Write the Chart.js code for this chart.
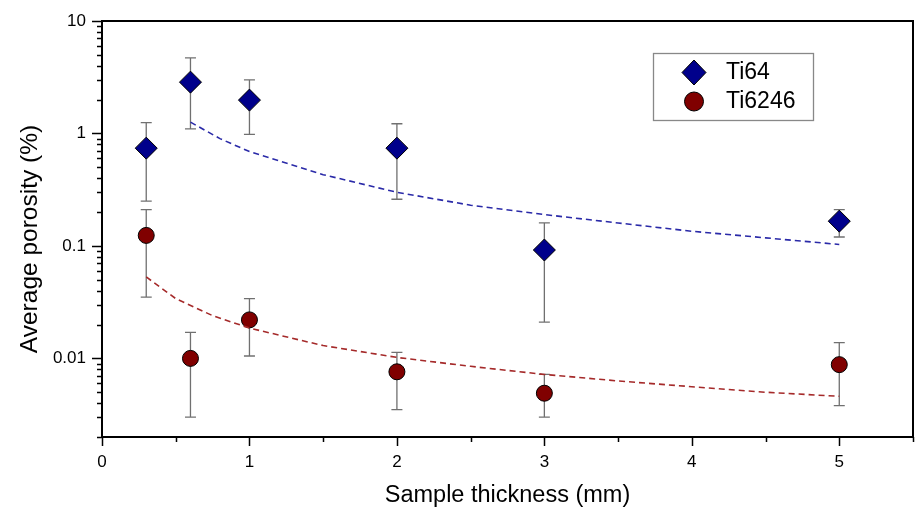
<!DOCTYPE html>
<html>
<head>
<meta charset="utf-8">
<script src="https://cdn.jsdelivr.net/npm/chart.js@4.4.1/dist/chart.umd.min.js"></script>
<style>
  body { margin: 0; background: #fff; overflow: hidden; }
  canvas { display: block; }
</style>
</head>
<body>
<canvas id="graf" width="915" height="510"></canvas>
<script>
// thickness (mm)
const thickness = [0.3, 0.6, 1, 2, 3, 5];

// Ti64 average porosity (%) and error bar ends
const ti64 = [0.74, 2.86, 1.98, 0.74, 0.092, 0.166];
const ti64Hi = [1.25, 4.7, 3.0, 1.22, 0.16, 0.21];
const ti64Lo = [0.25, 1.1, 0.98, 0.26, 0.021, 0.12];

// Ti6246
const ti6246 = [0.124, 0.010, 0.022, 0.0076, 0.0049, 0.0088];
const ti6246Hi = [0.21, 0.017, 0.034, 0.0113, 0.0072, 0.0138];
const ti6246Lo = [0.035, 0.003, 0.0105, 0.0035, 0.003, 0.0038];

// fitted trend lines
const fit64X = [0.6, 0.8, 1, 1.5, 2, 2.5, 3, 3.5, 4, 4.5, 5];
const fit64Y = [1.26, 0.90, 0.69, 0.43, 0.30, 0.23, 0.19, 0.16, 0.135, 0.118, 0.103];
const fit6246X = [0.3, 0.5, 0.75, 1, 1.5, 2, 2.5, 3, 3.5, 4, 4.5, 5];
const fit6246Y = [0.053, 0.034, 0.024, 0.0186, 0.013, 0.0102, 0.0085, 0.0072, 0.0063, 0.0056, 0.0050, 0.0046];

const yTicks = [];
[0.001, 0.01, 0.1, 1].forEach(function (d) {
  for (let k = 1; k < 10; k++) {
    const v = +(d * k).toPrecision(3);
    if (v >= 0.002) yTicks.push(v);
  }
});
yTicks.push(10);
const xLabels = [0, 1, 2, 3, 4, 5];
const xTicks = [0, 0.5, 1, 1.5, 2, 2.5, 3, 3.5, 4, 4.5, 5, 5.5];

const FONT = "'Liberation Sans', Arial, sans-serif";
const BLUE = '#00008b';
const RED = '#800000';

function pts(xs, ys) {
  return xs.map((x, i) => ({ x: x, y: ys[i] }));
}
function isDecade(v) {
  const l = Math.log10(v);
  return Math.abs(l - Math.round(l)) < 1e-6;
}

const errorBars = {
  id: 'errorBars',
  beforeDatasetsDraw(chart) {
    const ctx = chart.ctx, xs = chart.scales.x, ys = chart.scales.y;
    ctx.save();
    ctx.strokeStyle = '#707070';
    ctx.lineWidth = 1.3;
    [[ti64Hi, ti64Lo], [ti6246Hi, ti6246Lo]].forEach(function (pair) {
      thickness.forEach(function (t, i) {
        const px = xs.getPixelForValue(t);
        const yh = ys.getPixelForValue(pair[0][i]);
        const yl = ys.getPixelForValue(pair[1][i]);
        ctx.beginPath();
        ctx.moveTo(px, yh); ctx.lineTo(px, yl);
        ctx.moveTo(px - 5.5, yh); ctx.lineTo(px + 5.5, yh);
        ctx.moveTo(px - 5.5, yl); ctx.lineTo(px + 5.5, yl);
        ctx.stroke();
      });
    });
    ctx.restore();
  }
};

const frame = {
  id: 'frame',
  afterDraw(chart) {
    const ctx = chart.ctx, a = chart.chartArea, xs = chart.scales.x, ys = chart.scales.y;
    ctx.save();
    ctx.strokeStyle = '#000';
    ctx.lineWidth = 2;
    ctx.strokeRect(a.left, a.top, a.right - a.left, a.bottom - a.top);
    ctx.lineWidth = 1.5;
    ctx.beginPath();
    yTicks.forEach(function (v) {
      const py = Math.round(ys.getPixelForValue(v)) + 0.5;
      const len = isDecade(v) ? 10 : 5;
      ctx.moveTo(a.left, py); ctx.lineTo(a.left - len, py);
    });
    xTicks.forEach(function (v) {
      const px = Math.round(xs.getPixelForValue(v)) + 0.5;
      const len = Number.isInteger(v) ? 9 : 5;
      ctx.moveTo(px, a.bottom); ctx.lineTo(px, a.bottom + len);
    });
    ctx.stroke();

    // y axis title
    ctx.fillStyle = '#000';
    ctx.font = '24.5px ' + FONT;
    ctx.textAlign = 'center';
    ctx.textBaseline = 'middle';
    ctx.save();
    ctx.translate(30, 239);
    ctx.rotate(-Math.PI / 2);
    ctx.fillText('Average porosity (%)', 0, 0);
    ctx.restore();

    // legend
    const bx = 653, by = 53, bw = 160, bh = 67;
    ctx.fillStyle = '#fff';
    ctx.fillRect(bx, by, bw, bh);
    ctx.strokeStyle = '#888';
    ctx.lineWidth = 1.3;
    ctx.strokeRect(bx + 0.5, by + 0.5, bw, bh);

    ctx.lineWidth = 1;
    ctx.strokeStyle = '#000';
    ctx.fillStyle = BLUE;
    ctx.beginPath();
    ctx.moveTo(694, 60); ctx.lineTo(706, 72.5); ctx.lineTo(694, 85); ctx.lineTo(682, 72.5);
    ctx.closePath();
    ctx.fill(); ctx.stroke();
    ctx.fillStyle = RED;
    ctx.beginPath();
    ctx.arc(694, 101.5, 9.5, 0, Math.PI * 2);
    ctx.fill(); ctx.stroke();

    ctx.fillStyle = '#000';
    ctx.font = '23px ' + FONT;
    ctx.textBaseline = 'middle';
    ctx.textAlign = 'left';
    ctx.fillText('Ti64', 726, 73);
    ctx.fillText('Ti6246', 726, 102);
    ctx.restore();
  }
};

const config = {
  type: 'scatter',
  data: {
    datasets: [
      {
        label: 'Ti64 fit',
        data: pts(fit64X, fit64Y),
        showLine: true,
        borderColor: '#2a2aa8',
        borderWidth: 1.6,
        borderDash: [6, 4],
        pointRadius: 0,
        tension: 0
      },
      {
        label: 'Ti6246 fit',
        data: pts(fit6246X, fit6246Y),
        showLine: true,
        borderColor: '#a52a2a',
        borderWidth: 1.6,
        borderDash: [6, 4],
        pointRadius: 0,
        tension: 0
      },
      {
        label: 'Ti64',
        data: pts(thickness, ti64),
        pointStyle: 'rectRot',
        pointRadius: 11,
        backgroundColor: BLUE,
        borderColor: '#000',
        borderWidth: 1
      },
      {
        label: 'Ti6246',
        data: pts(thickness, ti6246),
        pointStyle: 'circle',
        pointRadius: 8,
        backgroundColor: RED,
        borderColor: '#000',
        borderWidth: 1
      }
    ]
  },
  options: {
    responsive: false,
    animation: false,
    layout: { autoPadding: false, padding: { top: 21, right: 2, left: 0, bottom: 0 } },
    plugins: {
      legend: { display: false },
      tooltip: { enabled: false }
    },
    scales: {
      x: {
        type: 'linear',
        min: 0,
        max: 5.5,
        afterBuildTicks(scale) { scale.ticks = xLabels.map(v => ({ value: v })); },
        afterFit(scale) {
          scale.height = 73;
          scale.paddingLeft = 0;
          scale.paddingRight = 0;
        },
        grid: { drawOnChartArea: false, color: 'rgba(0,0,0,0)', tickLength: 9 },
        border: { display: false },
        ticks: {
          autoSkip: false,
          maxRotation: 0,
          padding: 6,
          color: '#000',
          font: { family: FONT, size: 17 },
          callback: v => String(v)
        },
        title: {
          display: true,
          text: 'Sample thickness (mm)',
          color: '#000',
          font: { family: FONT, size: 23.5 },
          padding: { top: 0, bottom: 0 }
        }
      },
      y: {
        type: 'logarithmic',
        min: 0.002,
        max: 10,
        afterBuildTicks(scale) { scale.ticks = yTicks.map(v => ({ value: v })); },
        afterFit(scale) {
          scale.width = 102;
          scale.paddingTop = 0;
          scale.paddingBottom = 0;
        },
        grid: { drawOnChartArea: false, color: 'rgba(0,0,0,0)', tickLength: 10 },
        border: { display: false },
        ticks: {
          autoSkip: false,
          padding: 6,
          color: '#000',
          font: { family: FONT, size: 17 },
          callback: v => isDecade(v) ? String(v) : ''
        },
        title: { display: false }
      }
    }
  },
  plugins: [errorBars, frame]
};

new Chart(document.getElementById('graf').getContext('2d'), config);
</script>
</body>
</html>
